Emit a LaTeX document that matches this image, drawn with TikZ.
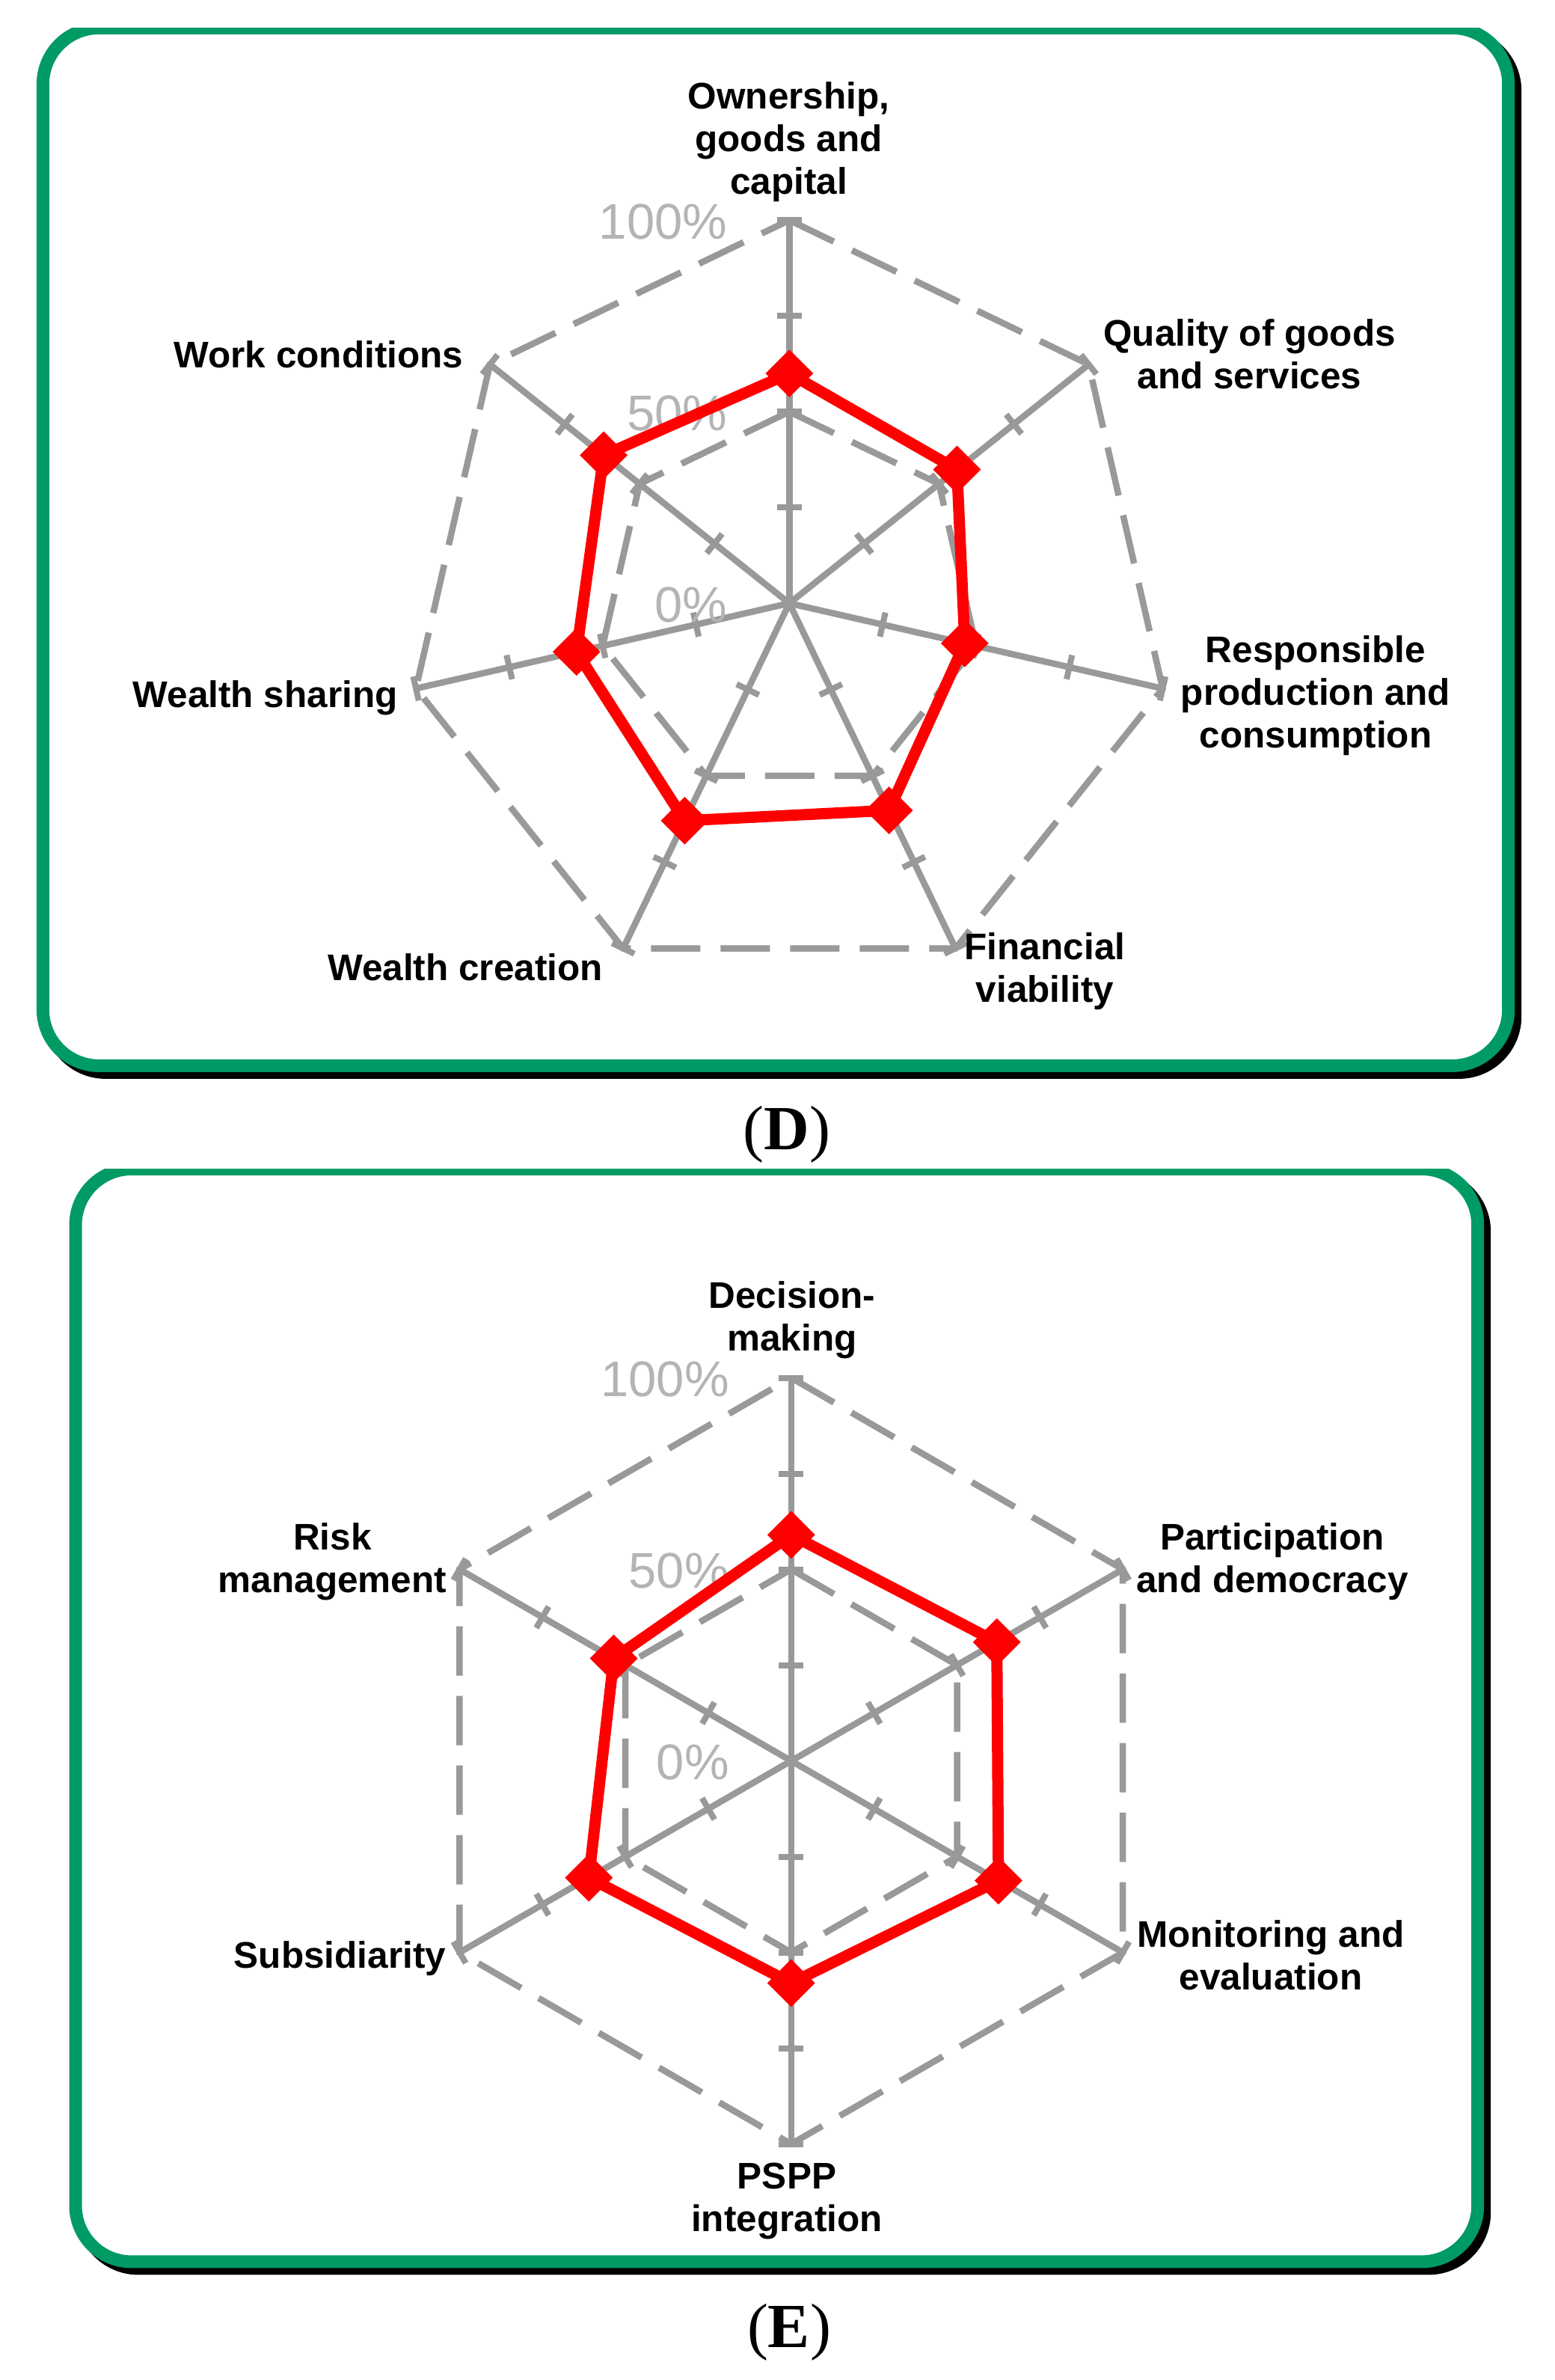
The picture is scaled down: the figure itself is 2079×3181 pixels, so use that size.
\documentclass[tikz,border=0pt]{standalone}
\usepackage{fontspec}
\setmainfont{Liberation Sans}
\newfontfamily\capfont{Liberation Serif}
\usetikzlibrary{calc,shapes.geometric}
\definecolor{boxgreen}{RGB}{0,155,100}
\definecolor{axisgray}{RGB}{153,153,153}
\definecolor{pctgray}{RGB}{180,180,180}
\definecolor{datared}{RGB}{255,0,0}
\newcommand{\axlbl}[1]{\begin{tabular}[t]{@{}c@{}}#1\end{tabular}}
\begin{document}
\begin{tikzpicture}[x=1pt,y=-1pt,
  axisline/.style={draw=axisgray, line width=8.5pt},
  gridline/.style={draw=axisgray, line width=8.5pt, dash pattern=on 66pt off 27pt},
  tickmark/.style={draw=axisgray, line width=8pt},
  dataline/.style={draw=datared, line width=15pt, line join=miter},
  marker/.style={shape=diamond, fill=datared, inner sep=0pt, minimum width=64pt, minimum height=64pt},
  axislabel/.style={font=\fontsize{49.5}{57}\selectfont\bfseries, anchor=base, inner sep=0pt},
  pctlabel/.style={font=\fontsize{67}{75}\selectfont, text=pctgray, anchor=base east, inner sep=0pt},
  captionlbl/.style={font=\capfont\fontsize{84}{90}\selectfont, anchor=base, inner sep=0pt},
  panelbox/.style={draw=boxgreen, fill=white, line width=17pt, rounded corners=75pt},
  panelshadow/.style={draw=black, fill=black, line width=17pt, rounded corners=75pt},
]
\useasboundingbox (0,0) rectangle (2079,3181);

% ---------------- Panel D ----------------
\begin{scope}
  \clip (0,37) rectangle (2079,1480);
  \draw[panelshadow] (66.4,46.4) rectangle (2025.7,1433.4);
  \draw[panelbox] (57.4,37.4) rectangle (2016.7,1424.4);
\end{scope}

\coordinate (Dc) at (1055.3,806.3);
\foreach \k in {0,...,6}{
  \pgfmathsetmacro{\a}{-90+\k*360/7}
  \coordinate (DgA\k) at ($(Dc)+({512*cos(\a)},{512*sin(\a)})$);
  \coordinate (DgB\k) at ($(Dc)+({256*cos(\a)},{256*sin(\a)})$);
}
\draw[gridline] (DgA0) -- (DgA1) -- (DgA2) -- (DgA3) -- (DgA4) -- (DgA5) -- (DgA6) -- cycle;
\draw[gridline] (DgB0) -- (DgB1) -- (DgB2) -- (DgB3) -- (DgB4) -- (DgB5) -- (DgB6) -- cycle;
\foreach \k in {0,...,6}{
  \pgfmathsetmacro{\a}{-90+\k*360/7}
  \draw[axisline] (Dc) -- (DgA\k);
  \foreach \r in {128,256,384,512}{
    \draw[tickmark] ($(Dc)+({\r*cos(\a)+16.5*sin(\a)},{\r*sin(\a)-16.5*cos(\a)})$) -- ($(Dc)+({\r*cos(\a)-16.5*sin(\a)},{\r*sin(\a)+16.5*cos(\a)})$);
  }
}
\node[pctlabel] (Dp100) at (972.3,319.3) {100\%};
\node[pctlabel] (Dp50) at (972.3,575.3) {50\%};
\node[pctlabel] (Dp0) at (972.3,831.3) {0\%};

\foreach \v [count=\k from 0] in {0.60,0.56,0.47,0.60,0.63,0.57,0.62}{
  \pgfmathsetmacro{\a}{-90+\k*360/7}
  \coordinate (Dv\k) at ($(Dc)+({512*\v*cos(\a)},{512*\v*sin(\a)})$);
}
\draw[dataline] (Dv0) -- (Dv1) -- (Dv2) -- (Dv3) -- (Dv4) -- (Dv5) -- (Dv6) -- cycle;
\foreach \k in {0,...,6}{ \node[marker] (Dm\k) at (Dv\k) {}; }

\node[axislabel] (Dl0) at (1054.5,145) {\axlbl{Ownership,\\goods and\\capital}};
\node[axislabel] (Dl1) at (1670.5,462.3) {\axlbl{Quality of goods\\and services}};
\node[axislabel] (Dl2) at (1759,885.8) {\axlbl{Responsible\\production and\\consumption}};
\node[axislabel] (Dl3) at (1397,1282) {\axlbl{Financial\\viability}};
\node[axislabel] (Dl4) at (622,1310) {Wealth creation};
\node[axislabel] (Dl5) at (354.7,945) {Wealth sharing};
\node[axislabel] (Dl6) at (426,491) {Work conditions};

\node[captionlbl] (Dcap) at (1052,1536) {(\textbf{D})};

% ---------------- Panel E ----------------
\begin{scope}
  \clip (0,1562) rectangle (2079,3100);
  \draw[panelshadow] (110,1571.4) rectangle (1984.7,3031.9);
  \draw[panelbox] (101,1562.4) rectangle (1975.7,3022.9);
\end{scope}

\coordinate (Ec) at (1057.8,2353.5);
\foreach \k in {0,...,5}{
  \pgfmathsetmacro{\a}{-90+\k*60}
  \coordinate (EgA\k) at ($(Ec)+({512*cos(\a)},{512*sin(\a)})$);
  \coordinate (EgB\k) at ($(Ec)+({256*cos(\a)},{256*sin(\a)})$);
}
\draw[gridline] (EgA0) -- (EgA1) -- (EgA2) -- (EgA3) -- (EgA4) -- (EgA5) -- cycle;
\draw[gridline] (EgB0) -- (EgB1) -- (EgB2) -- (EgB3) -- (EgB4) -- (EgB5) -- cycle;
\foreach \k in {0,...,5}{
  \pgfmathsetmacro{\a}{-90+\k*60}
  \draw[axisline] (Ec) -- (EgA\k);
  \foreach \r in {128,256,384,512}{
    \draw[tickmark] ($(Ec)+({\r*cos(\a)+16.5*sin(\a)},{\r*sin(\a)-16.5*cos(\a)})$) -- ($(Ec)+({\r*cos(\a)-16.5*sin(\a)},{\r*sin(\a)+16.5*cos(\a)})$);
  }
}
\node[pctlabel] (Ep100) at (974.8,1866.5) {100\%};
\node[pctlabel] (Ep50) at (974.8,2122.5) {50\%};
\node[pctlabel] (Ep0) at (974.8,2378.5) {0\%};

\foreach \v [count=\k from 0] in {0.59,0.62,0.625,0.58,0.61,0.535}{
  \pgfmathsetmacro{\a}{-90+\k*60}
  \coordinate (Ev\k) at ($(Ec)+({512*\v*cos(\a)},{512*\v*sin(\a)})$);
}
\draw[dataline] (Ev0) -- (Ev1) -- (Ev2) -- (Ev3) -- (Ev4) -- (Ev5) -- cycle;
\foreach \k in {0,...,5}{ \node[marker] (Em\k) at (Ev\k) {}; }

\node[axislabel] (El0) at (1059,1748.2) {\axlbl{Decision-\\making}};
\node[axislabel] (El1) at (1701,2071) {\axlbl{Participation\\and democracy}};
\node[axislabel] (El2) at (1699,2602) {\axlbl{Monitoring and\\evaluation}};
\node[axislabel] (El3) at (1052,2925) {\axlbl{PSPP\\integration}};
\node[axislabel] (El4) at (454.5,2630.2) {Subsidiarity};
\node[axislabel] (El5) at (444.5,2071) {\axlbl{Risk\\management}};

\node[captionlbl] (Ecap) at (1055,3137) {(\textbf{E})};
\end{tikzpicture}
\end{document}
